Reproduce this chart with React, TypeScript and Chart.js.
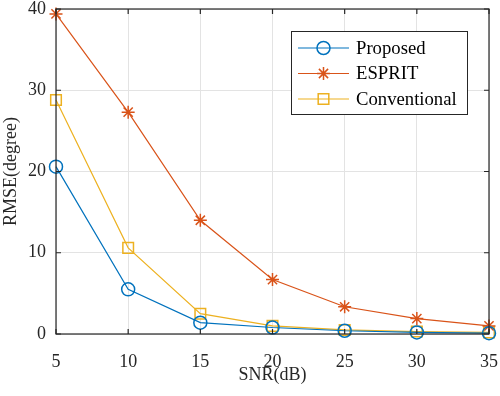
import React, { useEffect, useRef } from "react";
import { Chart, registerables } from "chart.js";

Chart.register(...registerables);

const snr = [5, 10, 15, 20, 25, 30, 35];
const proposed = [20.6, 5.5, 1.4, 0.8, 0.4, 0.2, 0.1];
const esprit = [39.4, 27.3, 14.0, 6.7, 3.35, 1.9, 1.0];
const conventional = [28.8, 10.6, 2.5, 1.0, 0.5, 0.3, 0.2];
const seriesNames = ["Proposed", "ESPRIT", "Conventional"];
const xTicks = [5, 10, 15, 20, 25, 30, 35];
const yTicks = [0, 10, 20, 30, 40];

const FONT = '"Liberation Serif", "Times New Roman", serif';
const TEXT = "#262626";
const COLORS = ["#0072BD", "#D95319", "#EDB120"];
const STYLES = ["circle", "star", "rect"];
const RADII = [6.5, 6.5, 7.5];

function drawMarker(ctx: CanvasRenderingContext2D, style: string, r: number, x: number, y: number) {
  ctx.beginPath();
  if (style === "circle") {
    ctx.arc(x, y, r, 0, Math.PI * 2);
  } else if (style === "rect") {
    const s = Math.SQRT1_2 * r;
    ctx.rect(x - s, y - s, 2 * s, 2 * s);
  } else {
    for (let k = 0; k < 4; k++) {
      const ang = (k * Math.PI) / 4;
      const dx = Math.cos(ang) * r;
      const dy = Math.sin(ang) * r;
      ctx.moveTo(x - dx, y - dy);
      ctx.lineTo(x + dx, y + dy);
    }
  }
  ctx.stroke();
}

const framePlugin = {
  id: "matlabFrame",
  afterDatasetsDraw(chart: any) {
    const { ctx, chartArea: a, scales } = chart;
    ctx.save();
    ctx.strokeStyle = TEXT;
    ctx.lineWidth = 1.2;
    ctx.strokeRect(a.left, a.top, a.right - a.left, a.bottom - a.top);
    const tl = 5;
    ctx.beginPath();
    for (const v of xTicks) {
      const px = scales.x.getPixelForValue(v);
      ctx.moveTo(px, a.bottom);
      ctx.lineTo(px, a.bottom - tl);
      ctx.moveTo(px, a.top);
      ctx.lineTo(px, a.top + tl);
    }
    for (const v of yTicks) {
      const py = scales.y.getPixelForValue(v);
      ctx.moveTo(a.left, py);
      ctx.lineTo(a.left + tl, py);
      ctx.moveTo(a.right, py);
      ctx.lineTo(a.right - tl, py);
    }
    ctx.stroke();
    ctx.restore();
  },
};

const legendPlugin = {
  id: "matlabLegend",
  afterDraw(chart: any) {
    const { ctx, chartArea: a } = chart;
    const bx = a.right - 198;
    const by = a.top + 22;
    const bw = 176;
    const bh = 83;
    ctx.save();
    ctx.fillStyle = "#ffffff";
    ctx.fillRect(bx, by, bw, bh);
    ctx.strokeStyle = TEXT;
    ctx.lineWidth = 1;
    ctx.strokeRect(bx + 0.5, by + 0.5, bw, bh);
    chart.data.datasets.forEach((ds: any, i: number) => {
      const y = by + 17 + i * 25.5;
      const x0 = bx + 7;
      const x1 = bx + 58;
      ctx.strokeStyle = ds.borderColor;
      ctx.lineWidth = 1.2;
      ctx.beginPath();
      ctx.moveTo(x0, y);
      ctx.lineTo(x1, y);
      ctx.stroke();
      ctx.lineWidth = ds.pointBorderWidth;
      drawMarker(ctx, ds.pointStyle, ds.pointRadius, (x0 + x1) / 2, y);
      ctx.fillStyle = "#000";
      ctx.font = `18.7px ${FONT}`;
      ctx.textBaseline = "middle";
      ctx.textAlign = "left";
      ctx.fillText(ds.label, bx + 65, y + 1);
    });
    ctx.restore();
  },
};

function zeroPad(s: any) {
  s.paddingLeft = 0;
  s.paddingRight = 0;
  s.paddingTop = 0;
  s.paddingBottom = 0;
}

export default function App() {
  const ref = useRef<HTMLCanvasElement | null>(null);
  useEffect(() => {
    const values = [proposed, esprit, conventional];
    const chart = new Chart(ref.current as HTMLCanvasElement, {
      type: "line",
      data: {
        datasets: values.map((vals, i) => ({
          label: seriesNames[i],
          data: snr.map((x, j) => ({ x, y: vals[j] })),
          borderColor: COLORS[i],
          backgroundColor: "rgba(0,0,0,0)",
          borderWidth: 1.2,
          pointStyle: STYLES[i] as any,
          pointRadius: RADII[i],
          pointBorderWidth: 1.5,
          pointBorderColor: COLORS[i],
          pointBackgroundColor: "rgba(0,0,0,0)",
          tension: 0,
          clip: false as any,
        })),
      },
      plugins: [framePlugin, legendPlugin],
      options: {
        responsive: false,
        animation: false,
        layout: { padding: { top: 8, right: 11, left: 0, bottom: 0 } },
        plugins: { legend: { display: false }, tooltip: { enabled: false } },
        scales: {
          x: {
            type: "linear",
            min: 5,
            max: 35,
            afterFit: (s: any) => {
              s.height = 62;
              zeroPad(s);
            },
            afterBuildTicks: (s: any) => {
              s.ticks = xTicks.map((v) => ({ value: v }));
            },
            ticks: { font: { family: FONT, size: 18 }, color: TEXT, padding: 17 },
            grid: { color: "#e3e3e3", drawTicks: false, lineWidth: 1 },
            border: { display: false },
            title: {
              display: true,
              text: "SNR(dB)",
              font: { family: FONT, size: 18 },
              color: TEXT,
              padding: { top: 0, bottom: 10 },
            },
          },
          y: {
            type: "linear",
            min: 0,
            max: 40,
            afterFit: (s: any) => {
              s.width = 56;
              zeroPad(s);
            },
            afterBuildTicks: (s: any) => {
              s.ticks = yTicks.map((v) => ({ value: v }));
            },
            ticks: { font: { family: FONT, size: 18 }, color: TEXT, padding: 10 },
            grid: { color: "#e3e3e3", drawTicks: false, lineWidth: 1 },
            border: { display: false },
            title: {
              display: true,
              text: "RMSE(degree)",
              font: { family: FONT, size: 18 },
              color: TEXT,
              padding: { top: 0, bottom: 0 },
            },
          },
        },
      },
    } as any);
    return () => chart.destroy();
  }, []);
  return (
    <div style={{ position: "absolute", left: 0, top: 0, width: 500, height: 396, background: "#fff" }}>
      <canvas ref={ref} width={500} height={396} />
    </div>
  );
}
